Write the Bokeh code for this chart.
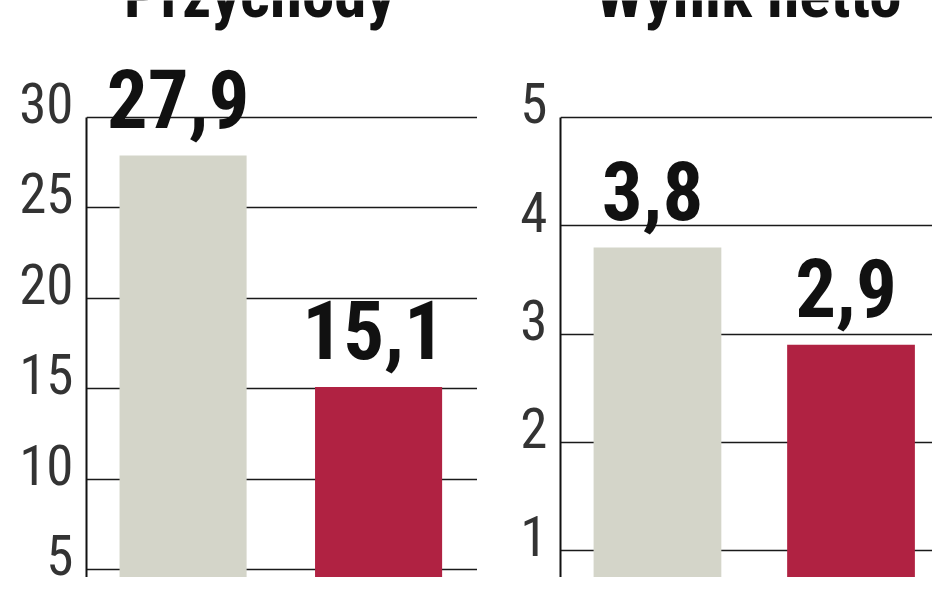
from bokeh.plotting import figure
from bokeh.models import Range1d, LinearAxis, FixedTicker, ColumnDataSource, Label
from bokeh.layouts import row
from bokeh.core.properties import value
from bokeh.embed import file_html
from bokeh.resources import INLINE

# ---- data ----
periods = ["okres 1", "okres 2"]
revenue = [27.9, 15.1]
net_result = [3.8, 2.9]
revenue_ticks = [5, 10, 15, 20, 25, 30]
revenue_tick_labels = ["5", "10", "15", "20", "25", "30"]
net_ticks = [1, 2, 3, 4, 5]
net_tick_labels = ["1", "2", "3", "4", "5"]
bar_colors = ["#d4d5c9", "#b02242"]
titles = ["Przychody", "Wynik netto"]

FONT_BOLD = "Roboto Condensed, DejaVu Sans Condensed, sans-serif"
FONT_THIN = "Roboto Condensed, DejaVu Sans Condensed, sans-serif"
HEIGHT = 577


def panel(title, vals, ticks, tick_labels, x_range, y_range, label_shift, width,
          border_left, bar_width, title_x, title_y):
    p = figure(x_range=Range1d(*x_range), y_range=Range1d(*y_range),
               width=width, height=HEIGHT, output_backend="svg", toolbar_location=None,
               min_border_left=border_left, min_border_right=0, min_border_top=0,
               min_border_bottom=0, outline_line_color=None,
               background_fill_color="white", border_fill_color="white")
    p.xaxis.visible = False
    p.xgrid.visible = False

    # inner axis: only the line, bounded at the top tick
    ax = p.yaxis[0]
    ax.ticker = FixedTicker(ticks=[])
    ax.bounds = (y_range[0], ticks[-1])
    ax.axis_line_color = "#111111"
    ax.axis_line_width = 2
    ax.major_tick_line_color = None
    ax.minor_tick_line_color = None
    ax.major_tick_out = 0
    ax.minor_tick_out = 0
    ax.major_label_standoff = 0

    # grid at the real tick values
    g = p.ygrid[0]
    g.ticker = FixedTicker(ticks=ticks)
    g.grid_line_color = "#1a1a1a"
    g.grid_line_width = 1.6

    # outer axis: tick labels, sitting slightly above their gridline
    shifted = [round(t + label_shift, 6) for t in ticks]
    lab_ax = LinearAxis(ticker=FixedTicker(ticks=shifted),
                        major_label_overrides={s: l for s, l in zip(shifted, tick_labels)},
                        axis_line_color=None, major_tick_line_color=None,
                        minor_tick_line_color=None, major_tick_out=0, minor_tick_out=0,
                        major_label_text_font=FONT_THIN,
                        major_label_text_font_size="55px",
                        major_label_text_color="#333333",
                        major_label_standoff=13)
    p.add_layout(lab_ax, "left")

    idx = list(range(len(periods)))
    src = ColumnDataSource(dict(pos=idx, period=periods, val=vals, color=bar_colors,
                                label=[f"{v:.1f}".replace(".", ",") for v in vals]))
    p.vbar(x="pos", top="val", bottom=0, width=bar_width, fill_color="color",
           line_color=None, source=src)
    p.text(x="pos", y="val", text="label", source=src, text_align="center",
           text_baseline="middle", y_offset=-57, x_offset=-5,
           text_font=value(FONT_BOLD), text_font_size="81px", text_font_style="bold",
           text_color="#111111")

    p.add_layout(Label(x=title_x, y=title_y, text=title, text_align="center",
                       text_baseline="middle", text_font=FONT_BOLD,
                       text_font_size="65px", text_font_style="bold",
                       text_color="#111111"))
    return p


p1 = panel(titles[0], revenue, revenue_ticks, revenue_tick_labels,
           (-0.494, 1.506), (4.557, 36.47), 0.8, 477, 86, 0.65, 0.391, 36.80)
p2 = panel(titles[1], net_result, net_ticks, net_tick_labels,
           (-0.501, 1.421), (0.7506, 6.081), 0.13, 455, 83, 0.66, 0.470, 6.136)

layout = row(p1, p2, spacing=0)
open("out.html", "w").write(file_html(layout, INLINE))
